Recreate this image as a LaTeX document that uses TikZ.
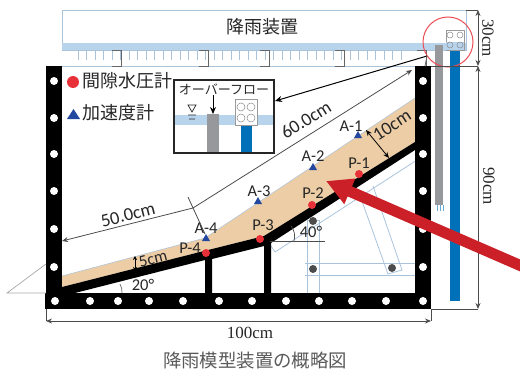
\documentclass[tikz,border=0pt]{standalone}
\usepackage{fontspec}
\setmainfont{Carlito}
\newfontfamily\jpfont{Noto Sans CJK JP}
\newfontfamily\dimfont{Liberation Serif}
\usetikzlibrary{arrows.meta}
\definecolor{rainblue}{RGB}{184,212,236}
\definecolor{framegray}{RGB}{170,195,220}
\definecolor{sandtan}{RGB}{236,205,165}
\definecolor{pipeblue}{RGB}{0,112,184}
\definecolor{pipegray}{RGB}{150,152,156}
\definecolor{markred}{RGB}{232,48,56}
\definecolor{markblue}{RGB}{36,72,160}
\definecolor{bigred}{RGB}{204,32,40}
\tikzset{
  hole/.style={circle,fill=white,inner sep=0pt,minimum size=8pt},
  pdot/.style={circle,fill=markred,inner sep=0pt,minimum size=8pt},
  lab/.style={inner sep=0pt,font=\fontsize{16.5}{17}\selectfont,text=black!85},
  lenlab/.style={inner sep=0pt,font=\fontsize{18.5}{19}\selectfont,text=black!85},
  dimlab/.style={inner sep=0pt,font=\dimfont\fontsize{17}{17}\selectfont,text=black!85},
  jplab/.style={inner sep=0pt,font=\jpfont\fontsize{18}{18}\selectfont,text=black!85},
  dimline/.style={draw=black!70,line width=0.8pt,{Stealth[length=6pt,width=5pt]}-{Stealth[length=6pt,width=5pt]}},
  support/.style={draw=framegray,line width=0.8pt},
}
\begin{document}
\begin{tikzpicture}[x=1pt,y=-1pt]
\useasboundingbox (0,0) rectangle (520,372);
% rain device
\draw[framegray,line width=0.8pt,fill=white] (62,10) rectangle (466,50);
\fill[rainblue] (62,43) rectangle (466,50);
\draw[framegray,line width=0.8pt] (62,66) -- (415,66);
\foreach \x in {78,86.5,...,405} \draw[framegray,line width=0.7pt] (\x,51) -- (\x,60);
\foreach \x in {112,199,260,335,417} \draw[black!60,line width=0.8pt] (\x,50) -- (\x+9,50) -- (\x+9,66) -- (\x,66);
\node[jplab] (rain) at (262,27) {降雨装置};
% support
\draw[support] (307,220) rectangle (319,306);
\draw[support] (305,263) -- (415,263) (305,275) -- (415,275);
\draw[support] (358,190) -- (388,274) -- (402,270) -- (373,186);
\draw[support] (275,252) -- (417,160) (271,246) -- (275,252);
\foreach \p in {(313,221),(313,269),(392,268)} \fill[black!70] \p circle (4pt);
% sand
\fill[sandtan] (62,276) -- (205,238) -- (415,98) -- (415,142) -- (264,236) -- (62,287) -- cycle;
\draw[framegray,line width=0.5pt] (62,276) -- (205,238) -- (415,98);
% frame
\fill[black] (46,66) rectangle (62,309);
\fill[black] (415,66) rectangle (431,309);
\fill[black] (45,293) rectangle (431,309);
\fill[black] (62,287) -- (208,250) -- (264,236) -- (415,142) -- (415,150) -- (271,243) -- (271,293) -- (264,293) -- (264,246) -- (212,259) -- (212,293) -- (205,293) -- (205,260) -- (75,293) -- (62,293) -- cycle;
\foreach \y in {81,118,154,191,229,267} {
  \node[hole] (hl\y) at (54,\y) {};
  \node[hole] (hr\y) at (423,\y) {};
}
\foreach \x in {55,90,118,149,183,219,252,286,319,352,386,423} \node[hole] (hb\x) at (\x,301) {};
% pipes
\fill[pipegray] (435,45) rectangle (443,205);
\fill[pipeblue] (450,50) rectangle (460,301);
\foreach \x in {437,440,443} \draw[pipeblue!60,line width=0.7pt] (\x,205) -- (\x,211);
\draw[black!40,fill=white,line width=0.7pt] (446,30) rectangle (464,50);
\fill[rainblue] (446,42) rectangle (464,50);
\foreach \x in {450,460} \foreach \y in {35,45} \draw[black!45,line width=0.5pt] (\x,\y) circle (3pt);
\draw[markred!85,line width=1pt] (448,42) circle (25pt);
% inset
\draw[black!85,line width=1.2pt] (174,80) rectangle (274,153);
\node[inner sep=0pt,font=\jpfont\fontsize{13}{14}\selectfont,text=black!85] (overflow) at (224,89) {オーバーフロー};
\fill[rainblue] (175,115) rectangle (273,125);
\fill[pipegray] (207,114) rectangle (219,152);
\fill[pipeblue] (241,125) rectangle (252,152);
\draw[black!40,fill=white,line width=0.7pt] (235,99) rectangle (257,125);
\foreach \x in {241,251} \foreach \y in {107,118} \draw[black!45,line width=0.5pt] (\x,\y) circle (4pt);
\draw[black!85,line width=0.7pt] (188,105) -- (196,105) -- (192,112) -- cycle (188,115) -- (196,115) (189,119) -- (195,119);
\coordinate (ovstart) at (213,95);
\coordinate (ovend) at (213,114);
\draw[black,line width=1pt,-{Stealth[length=7pt,width=6pt]}] (ovstart) -- (ovend);
\coordinate (insetr) at (275,101);
\coordinate (gaugept) at (427,56);
\draw[black,line width=1pt,{Stealth[length=7pt,width=6pt]}-] (insetr) -- (gaugept);
\draw[black!60,line width=0.8pt] (gaugept) -- (425,66);
% legend
\node[pdot,minimum size=12pt] (pkey) at (73,82) {};
\node[jplab,anchor=west] (pkeytext) at (82,81) {間隙水圧計};
\fill[markblue] (67,119) -- (80,119) -- (73.5,109) -- cycle;
\node[jplab,anchor=west] (akeytext) at (82,113) {加速度計};
% sensors
\foreach \n/\x/\y/\lx/\ly in {1/359/174/359/163,2/312/205/313/193,3/260/239/263/225,4/206/253/190/248} {
  \node[pdot] (P\n) at (\x,\y) {};
  \node[lab] (Plab\n) at (\lx,\ly) {P-\n};
}
\foreach \n/\x/\y/\lx/\ly in {1/358/135/351/126,2/313/167/313/156,3/258/201/259/191,4/206/238/206/228} {
  \fill[markblue] (\x-4,\y+3) -- (\x+4,\y+3) -- (\x,\y-4) -- cycle;
  \node[lab] (Alab\n) at (\lx,\ly) {A-\n};
}
% dimensions
\coordinate (leftend) at (62,241);
\coordinate (kink) at (193,208);
\coordinate (topend) at (412,70);
\draw[black!70,line width=0.8pt,-{Stealth[length=6pt,width=5pt]}] (kink) -- (leftend);
\draw[black!70,line width=0.8pt,-{Stealth[length=6pt,width=5pt]}] (kink) -- (topend);
\coordinate (ticka) at (188,197);
\coordinate (tickb) at (205,234);
\draw[black!70,line width=0.8pt] (ticka) -- (tickb);
\node[lenlab,rotate=14] (len50) at (128,215) {50.0cm};
\node[lenlab,rotate=32] (len60) at (306,120) {60.0cm};
\coordinate (tena) at (366,130);
\coordinate (tenb) at (389,158);
\draw[dimline,black] (tena) -- (tenb);
\node[lenlab,rotate=33] (len10) at (392,125) {10cm};
\coordinate (fivea) at (135,256);
\coordinate (fiveb) at (135,271);
\draw[black,line width=0.9pt,{Stealth[length=4pt,width=4pt]}-{Stealth[length=4pt,width=4pt]}] (fivea) -- (fiveb);
\node[lab,rotate=14] (len5) at (153,259) {5cm};
\coordinate (slope20) at (120,284);
\coordinate (base20) at (122,293);
\draw[black!60,line width=0.7pt] (slope20) to[bend left=15] (base20);
\node[lab] (ang20) at (143,285) {20\textdegree};
\coordinate (horiz40a) at (270,241);
\coordinate (horiz40b) at (325,241);
\draw[black!70,line width=0.7pt] (horiz40a) -- (horiz40b);
\coordinate (slope40) at (291,226);
\coordinate (base40) at (294,241);
\draw[black!70,line width=0.7pt] (slope40) to[bend left=25] (base40);
\node[lab] (ang40) at (311,232) {40\textdegree};
\coordinate (groundl) at (7,293);
\coordinate (groundr) at (46,293);
\coordinate (groundt) at (46,264);
\draw[black!35,line width=0.7pt] (groundt) -- (groundl) -- (groundr);
\coordinate (w100a) at (46,321);
\coordinate (w100b) at (431,321);
\draw[black!70,line width=0.9pt] (46,309) -- (w100a) (431,309) -- (w100b);
\draw[dimline] (w100a) -- (w100b);
\node[dimlab] (w100) at (250,333) {100cm};
\coordinate (h30a) at (478,10);
\coordinate (h30b) at (478,66);
\coordinate (h90b) at (478,309);
\draw[black!70,line width=0.8pt] (466,10) -- (h30a) (431,66) -- (h30b) (431,309) -- (h90b);
\draw[dimline] (h30a) -- (h30b);
\draw[dimline] (h30b) -- (h90b);
\node[dimlab,rotate=-90] (h30) at (488,38) {30cm};
\node[dimlab,rotate=-90] (h90) at (489,186) {90cm};
% big arrow
\coordinate (bigtail) at (526,268);
\coordinate (bigtip) at (326,181);
\draw[bigred,line width=11pt,-{Triangle[length=26pt,width=26pt]}] (bigtail) -- (bigtip);
% caption
\node[inner sep=0pt,font=\jpfont\fontsize{18.4}{19}\selectfont,text=black!65] (caption) at (255,361) {降雨模型装置の概略図};
\end{tikzpicture}
\end{document}
